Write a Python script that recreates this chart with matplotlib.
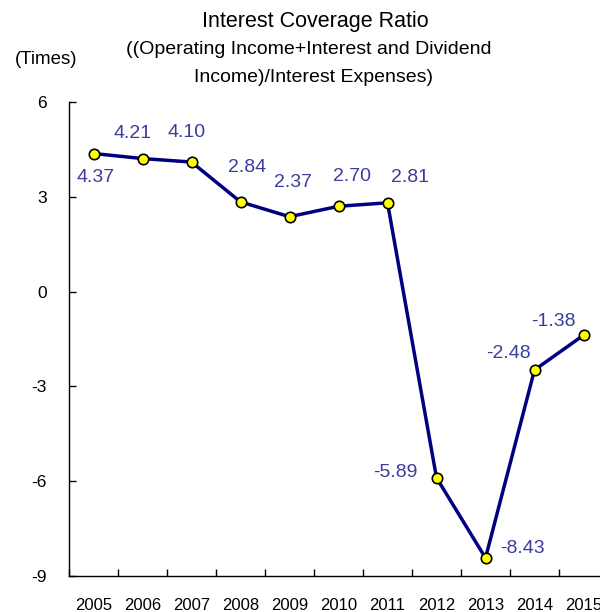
import matplotlib
matplotlib.use("Agg")
import matplotlib.pyplot as plt
import numpy as np

plt.rcParams['font.family'] = ['Liberation Sans', 'DejaVu Sans']

years = ['2005', '2006', '2007', '2008', '2009', '2010', '2011', '2012', '2013', '2014', '2015']
values = [4.37, 4.21, 4.10, 2.84, 2.37, 2.70, 2.81, -5.89, -8.43, -2.48, -1.38]
yticks = [-9, -6, -3, 0, 3, 6]
# label offsets in points (dx, dy)
offsets = [(1.8, -17), (-7, 18.4), (-3.6, 21.4), (4.7, 24.5), (2.3, 24.8), (9.7, 21.6),
           (16.5, 18.5), (-29.5, 3.6), (26.3, 6.5), (-18.6, 12), (-21.8, 9.6)]

fig = plt.figure(figsize=(6.0, 6.12), dpi=100)
ax = fig.add_axes([69/600, 36/612, 539/600, 474/612])

x = np.arange(len(years))
ax.plot(x, values, color='#000080', lw=2.5, zorder=2, solid_joinstyle='round')
ax.plot(x, values, ls='none', marker='o', ms=7.5, mfc='#FFFF00', mec='black', mew=1.2, zorder=3)

for xi, v, (dx, dy) in zip(x, values, offsets):
    ax.annotate(f'{v:.2f}', (xi, v), xytext=(dx, dy), textcoords='offset points',
                ha='center', va='center', fontsize=14, color='#3C3C9E')

ax.set_xlim(-0.5, len(years) - 0.5)
ax.set_ylim(-9, 6)
ax.set_yticks(yticks)
ax.set_yticklabels([str(t) for t in yticks])
ax.set_xticks(x)
ax.set_xticklabels(years)
ax.set_xticks(np.arange(len(years) + 1) - 0.5, minor=True)
ax.tick_params(axis='x', which='major', length=0, pad=16, labelsize=12)
ax.tick_params(axis='x', which='minor', direction='in', length=5, width=1)
ax.tick_params(axis='y', direction='in', length=5, width=1, pad=16, labelsize=12.5)

for s in ['top', 'right']:
    ax.spines[s].set_visible(False)
for s in ['left', 'bottom']:
    ax.spines[s].set_linewidth(1)
    ax.spines[s].set_color('black')

fig.text(315/600, 1 - 21/612, 'Interest Coverage Ratio', ha='center', va='center', fontsize=15.5)
fig.text(309/600, 1 - 49/612, '((Operating Income+Interest and Dividend', ha='center', va='center', fontsize=14)
fig.text(313.5/600, 1 - 77/612, 'Income)/Interest Expenses)', ha='center', va='center', fontsize=14)
fig.text(46/600, 1 - 60/612, '(Times)', ha='center', va='center', fontsize=13.5)

fig.savefig('out.png', dpi=100)
